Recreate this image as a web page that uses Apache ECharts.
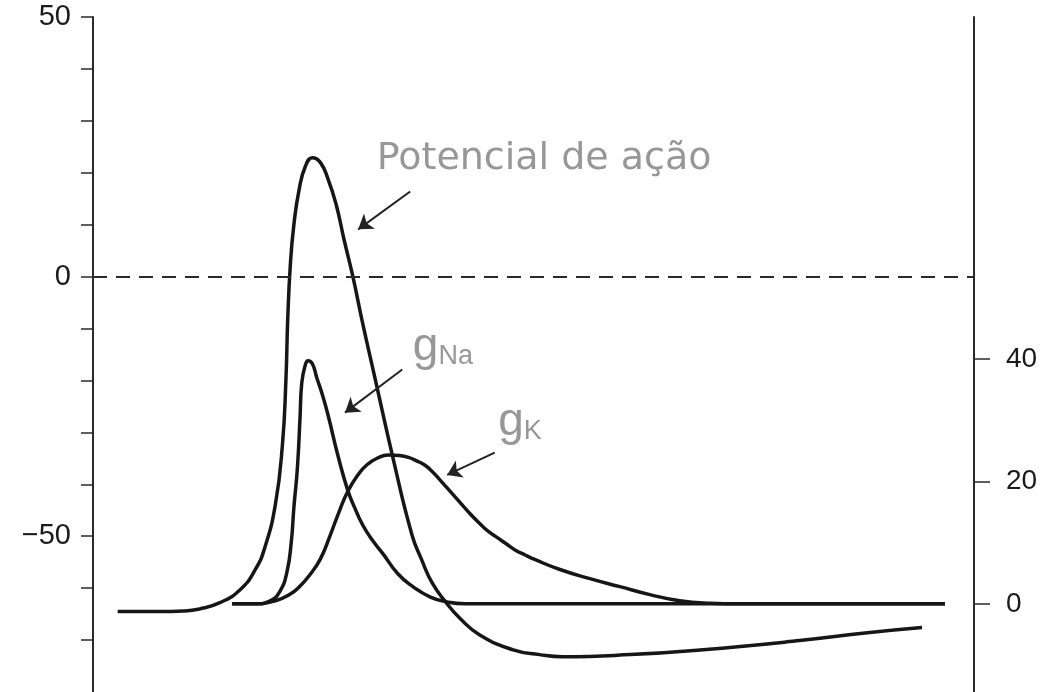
<!DOCTYPE html>
<html>
<head>
<meta charset="utf-8">
<script src="https://cdn.jsdelivr.net/npm/echarts@6/dist/echarts.min.js"></script>
<style>
  html, body { margin: 0; padding: 0; background: #fff; }
  #chart { width: 1043px; height: 692px; }
</style>
</head>
<body>
<div id="chart"></div>
<script>
// action potential (mV, left axis)
const apTime = [0.28, 0.76, 1.02, 1.21, 1.44, 1.67, 1.84, 1.95, 2.07, 2.15, 2.19, 2.21, 2.24, 2.28, 2.34, 2.41, 2.49, 2.58, 2.67, 2.76, 2.85, 2.95, 3.06, 3.20, 3.41, 3.62, 3.73, 3.85, 4.00, 4.17, 4.39, 4.77, 5.07, 5.33, 6.10, 6.89, 8.02, 8.79, 9.41];
const apVolt = [-64.5, -64.5, -64.4, -64.0, -62.8, -60.3, -56.5, -52.2, -43.9, -32.4, -19.8, -8.3, 2.3, 10.0, 16.8, 21.2, 22.9, 22.0, 18.7, 13.9, 7.1, 0, -8.9, -19.5, -35.3, -49.7, -54.5, -59.0, -62.6, -65.9, -69.0, -71.9, -72.8, -73.2, -72.8, -71.9, -70.1, -68.6, -67.6];

// sodium conductance (right axis)
const naTime = [1.58, 1.84, 2.01, 2.12, 2.20, 2.25, 2.28, 2.32, 2.35, 2.37, 2.41, 2.44, 2.49, 2.54, 2.60, 2.67, 2.78, 2.89, 2.97, 3.06, 3.17, 3.29, 3.46, 3.63, 3.83, 4.02, 4.22, 9.67];
const naCond = [0, 0, 0.5, 2.0, 5.1, 10.0, 15.7, 22.2, 30.4, 36.1, 39.0, 39.7, 39.2, 36.9, 34.3, 30.7, 24.2, 18.6, 15.7, 12.9, 10.4, 8.2, 4.9, 2.8, 1.1, 0.3, 0, 0];

// potassium conductance (right axis)
const kTime = [1.58, 1.84, 2.07, 2.24, 2.35, 2.46, 2.58, 2.69, 2.79, 2.89, 3.01, 3.11, 3.23, 3.35, 3.48, 3.58, 3.68, 3.76, 3.83, 3.94, 4.07, 4.20, 4.28, 4.39, 4.48, 4.59, 4.69, 4.79, 4.90, 5.02, 5.30, 5.64, 5.98, 6.32, 6.66, 7.00, 7.34, 9.67];
const kCond = [0, 0, 0.5, 1.6, 2.9, 4.7, 7.3, 11.1, 14.9, 18.3, 21.1, 22.7, 23.8, 24.3, 24.2, 23.9, 23.3, 22.7, 21.9, 20.2, 18.1, 16.0, 14.7, 13.1, 11.9, 10.8, 9.8, 8.8, 8.0, 7.2, 5.6, 4.1, 2.8, 1.5, 0.5, 0.1, 0, 0];

// axis ticks
const leftTicks = [-70, -60, -50, -40, -30, -20, -10, 0, 10, 20, 30, 40, 50];
const leftLabels = [-50, 0, 50];
const rightTicks = [0, 20, 40];
const zeroLine = 0;

// annotations (data coords on the mV axis)
const apNote = [3.22, 22.7];
const naNote = [3.63, -13.6];
const kNote = [4.60, -28.0];
const apArrow = [[3.60, 16.4], [3.01, 9.1]];
const naArrow = [[3.51, -17.9], [2.86, -26.2]];
const kArrow = [[4.56, -33.9], [4.02, -38.2]];

const zip = (a, b) => a.map((x, i) => [x, b[i]]);
const ink = '#161616';
const grey = '#7d7d7d';

const chart = echarts.init(document.getElementById('chart'));

const curve = (data, yAxisIndex) => ({
  type: 'line',
  yAxisIndex: yAxisIndex,
  data: data,
  showSymbol: false,
  smooth: 0.5,
  lineStyle: { color: ink, width: 3.5 },
  silent: true
});

const subLabel = (sub) => ({
  show: true,
  position: 'inside',
  align: 'left',
  verticalAlign: 'middle',
  formatter: '{g|g}{s|' + sub + '}',
  rich: {
    g: { fontFamily: 'Liberation Sans', fontSize: 46, color: grey, verticalAlign: 'bottom' },
    s: { fontFamily: 'Liberation Sans', fontSize: 27, lineHeight: 4, color: grey, verticalAlign: 'bottom' }
  }
});

chart.setOption({
  animation: false,
  backgroundColor: '#fff',
  grid: { left: 93, right: 69, top: 17, bottom: 0 },
  xAxis: { type: 'value', min: 0, max: 10, show: false },
  yAxis: [
    {
      type: 'value',
      min: -80,
      max: 50,
      interval: 10,
      position: 'left',
      splitLine: { show: false },
      axisLine: { show: true, lineStyle: { color: '#2a2a2a', width: 2 } },
      axisTick: { show: true, length: 12, customValues: leftTicks, lineStyle: { color: '#2a2a2a', width: 1.5 } },
      axisLabel: {
        customValues: leftLabels,
        margin: 22,
        fontFamily: 'Liberation Sans',
        fontSize: 29,
        color: '#1a1a1a',
        formatter: (v) => String(v).replace('-', '\u2212')
      }
    },
    {
      type: 'value',
      min: -14.4,
      max: 95.8,
      position: 'right',
      splitLine: { show: false },
      axisLine: { show: true, lineStyle: { color: '#2a2a2a', width: 2 } },
      axisTick: { show: true, length: 16, customValues: rightTicks, lineStyle: { color: '#2a2a2a', width: 1.5 } },
      axisLabel: {
        customValues: rightTicks,
        margin: 32,
        fontFamily: 'Liberation Sans',
        fontSize: 28,
        color: '#1a1a1a'
      }
    }
  ],
  series: [
    Object.assign(curve(zip(apTime, apVolt), 0), {
      markLine: {
        silent: true,
        symbol: 'none',
        label: { show: false },
        lineStyle: { color: '#2a2a2a', width: 2, type: [14, 9] },
        data: [{ yAxis: zeroLine }]
      }
    }),
    curve(zip(naTime, naCond), 1),
    curve(zip(kTime, kCond), 1),
    {
      type: 'scatter',
      yAxisIndex: 0,
      symbolSize: 0,
      silent: true,
      data: [
        {
          value: apNote,
          label: {
            show: true,
            position: 'inside',
            align: 'left',
            verticalAlign: 'middle',
            formatter: 'Potencial de ação',
            fontFamily: 'DejaVu Sans',
            fontSize: 38,
            color: grey
          }
        },
        { value: naNote, label: subLabel('Na') },
        { value: kNote, label: subLabel('K') }
      ],
      markLine: {
        silent: true,
        symbol: ['none', 'arrow'],
        symbolSize: 14,
        label: { show: false },
        lineStyle: { color: '#222', width: 2, type: 'solid' },
        data: [apArrow, naArrow, kArrow].map((a) => [{ coord: a[0] }, { coord: a[1] }])
      }
    }
  ]
});
</script>
</body>
</html>
